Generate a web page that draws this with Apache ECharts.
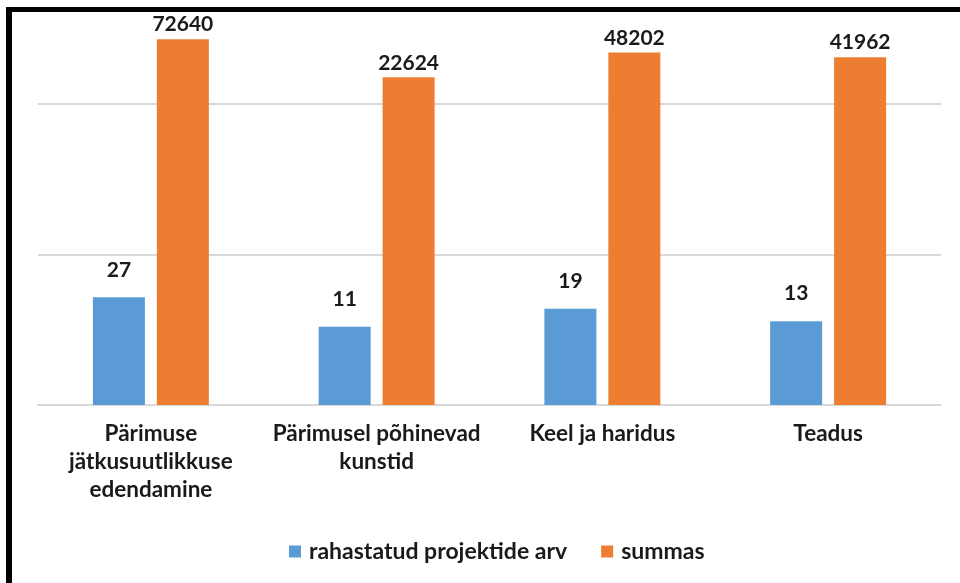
<!DOCTYPE html>
<html>
<head>
<meta charset="utf-8">
<script src="https://cdn.jsdelivr.net/npm/echarts@6/dist/echarts.min.js"></script>
<style>
html,body{margin:0;padding:0;background:#fff;}
#chart{width:960px;height:583px;}
</style>
</head>
<body>
<div id="chart"></div>
<script>
const categories = ['Pärimuse\njätkusuutlikkuse\nedendamine', 'Pärimusel põhinevad\nkunstid', 'Keel ja haridus', 'Teadus'];
const seriesNames = ['rahastatud projektide arv', 'summas'];
const projectCounts = [27, 11, 19, 13];
const sums = [72640, 22624, 48202, 41962];

const chart = echarts.init(document.getElementById('chart'), null, {renderer: 'canvas'});
const labelFont = 'Lato, "Noto Sans", sans-serif';
// log axis: 1 at y=405, 100 at y≈255, 10000 at y≈104 (75.25 px per decade)
const plotTop = 9.5, plotBottom = 405;
const axisMax = Math.pow(10, (plotBottom - plotTop) / 75.25);
chart.setOption({
  animation: false,
  backgroundColor: '#ffffff',
  grid: {left: 38, right: 19, top: plotTop, bottom: 583 - plotBottom, containLabel: false},
  legend: {
    data: seriesNames,
    top: 535,
    left: 284,
    itemWidth: 12,
    itemHeight: 12,
    itemGap: 34,
    icon: 'rect',
    textStyle: {fontFamily: labelFont, fontWeight: 'bold', fontSize: 23, color: '#1a1a1a', padding: [0, 0, 0, 3]}
  },
  xAxis: {
    type: 'category',
    data: categories,
    axisLine: {onZero: false, lineStyle: {color: '#d9d9d9', width: 2}},
    axisTick: {show: false},
    axisLabel: {interval: 0, margin: 15, fontFamily: labelFont, fontWeight: 'bold', fontSize: 22.5, lineHeight: 28, color: '#1a1a1a'}
  },
  yAxis: {
    type: 'log',
    logBase: 100,
    min: 1,
    max: axisMax,
    interval: 1,
    axisLine: {show: false},
    axisTick: {show: false},
    axisLabel: {show: false},
    splitLine: {show: true, lineStyle: {color: '#d9d9d9', width: 2}}
  },
  series: [
    {
      name: seriesNames[0],
      type: 'bar',
      data: projectCounts,
      barWidth: 52,
      barGap: '23%',
      itemStyle: {color: '#5b9bd5'},
      label: {show: true, position: 'top', distance: 17, fontFamily: labelFont, fontWeight: 'bold', fontSize: 21, color: '#1a1a1a'}
    },
    {
      name: seriesNames[1],
      type: 'bar',
      data: sums,
      barWidth: 52,
      itemStyle: {color: '#ed7d31'},
      label: {show: true, position: 'top', distance: 4, fontFamily: labelFont, fontWeight: 'bold', fontSize: 21, color: '#1a1a1a'}
    }
  ],
  graphic: [
    {type: 'rect', shape: {x: 6, y: 7, width: 954, height: 5}, style: {fill: '#000'}, z: 100},
    {type: 'rect', shape: {x: 6, y: 7, width: 6, height: 576}, style: {fill: '#000'}, z: 100}
  ]
});
</script>
</body>
</html>
